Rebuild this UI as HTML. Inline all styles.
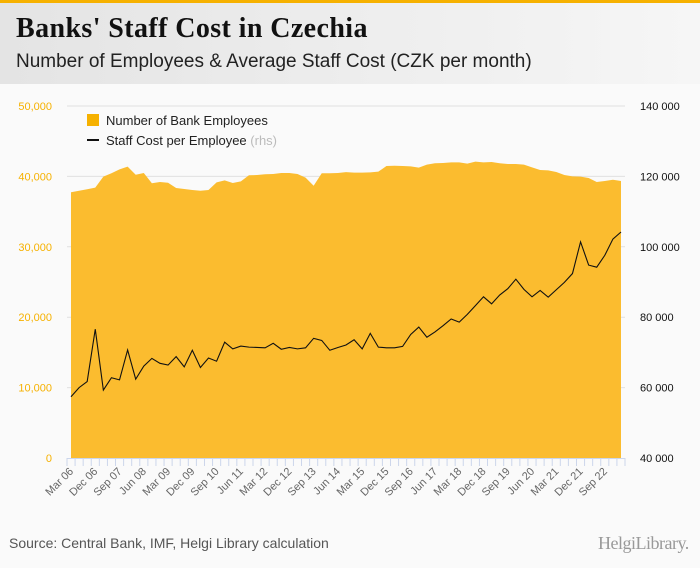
<!DOCTYPE html>
<html><head><meta charset="utf-8"><style>
body{margin:0;width:700px;height:568px;background:#fafafa;font-family:"Liberation Sans",sans-serif;overflow:hidden;position:relative}
#hdr{position:absolute;left:0;top:0;width:700px;height:84px;background:linear-gradient(90deg,#e4e4e4,#f6f6f6);border-top:3px solid #f6b100;box-sizing:border-box}
#title{position:absolute;left:16px;top:13px;font:bold 28px "Liberation Serif",serif;color:#111;letter-spacing:0.4px}
#sub{position:absolute;left:16px;top:51px;font:19px "Liberation Sans",sans-serif;color:#222}
#src{position:absolute;left:9px;top:535px;font:14px "Liberation Sans",sans-serif;color:#555}
#logo{position:absolute;left:598px;top:533px;font:18px "Liberation Serif",serif;color:#999;letter-spacing:-0.5px}
svg{position:absolute;left:0;top:0}
</style></head><body>
<div id="hdr"></div>
<div id="title">Banks' Staff Cost in Czechia</div>
<div id="sub">Number of Employees &amp; Average Staff Cost (CZK per month)</div>
<svg id="chart" width="700" height="568"></svg>
<div id="src">Source: Central Bank, IMF, Helgi Library calculation</div>
<div id="logo">HelgiLibrary.</div>
<script>
const employees=[37740,37970,38170,38400,39960,40440,41000,41380,40240,40480,39020,39200,39100,38350,38210,38070,37970,38070,39160,39440,39060,39300,40160,40200,40300,40340,40480,40480,40340,39820,38680,40440,40440,40480,40600,40530,40530,40580,40670,41480,41520,41480,41430,41240,41670,41860,41900,42000,42000,41810,42090,42000,42050,41860,41760,41760,41670,41290,40910,40860,40620,40200,40010,39960,39770,39200,39350,39530,39350];
const staffCost=[57400,60000,61700,76600,59300,62800,62200,70700,62400,66100,68300,66900,66400,68800,65900,70600,65700,68400,67500,72900,71000,71800,71500,71400,71300,72600,70900,71400,71000,71300,74000,73400,70600,71400,72100,73600,71000,75400,71500,71300,71300,71700,75100,77200,74300,75800,77600,79500,78600,80800,83300,85800,83800,86300,88100,90800,87900,85800,87600,85700,87800,89900,92400,101400,94800,94200,97600,102200,104200];
const leftTicks=[0,10000,20000,30000,40000,50000];
const rightTicks=[40000,60000,80000,100000,120000,140000];
const qNames=["Mar","Jun","Sep","Dec"];
const startYear=2006;
const svg=document.getElementById('chart');const NS="http://www.w3.org/2000/svg";
const X0=71,X1=621,Y0=458,Y1=106;
const n=employees.length;
const xs=i=>X0+(X1-X0)*i/(n-1);
const yL=v=>Y0-(Y0-Y1)*v/50000;
const yR=v=>Y0-(Y0-Y1)*(v-40000)/100000;
function mk(t,a,txt){const e=document.createElementNS(NS,t);for(const k in a)e.setAttribute(k,a[k]);if(txt!==undefined)e.textContent=txt;svg.appendChild(e);return e;}
leftTicks.forEach(v=>{
 if(v>0){const g=mk('line',{x1:67,x2:625,y1:yL(v),y2:yL(v),stroke:'#e0e0e0','stroke-width':1});
 
 }
 const t=mk('text',{x:52,y:yL(v)+4,'text-anchor':'end','font-size':11,fill:'#f6b100'},v.toLocaleString('en-US'));
 
 
});
rightTicks.forEach(v=>{
 const t=mk('text',{x:640,y:yR(v)+4,'font-size':11,fill:'#111'},String(v).replace(/\B(?=(\d{3})+(?!\d))/g,' '));
 
 
});
let d=`M${xs(0)},${Y0}`;employees.forEach((v,i)=>d+=` L${xs(i)},${yL(v)}`);d+=` L${xs(n-1)},${Y0} Z`;
const area=mk('path',{d:d,fill:'#fbbc2f'});


let d2='';staffCost.forEach((v,i)=>d2+=(i?' L':'M')+xs(i)+','+yR(v));
const ln=mk('path',{d:d2,fill:'none',stroke:'#111','stroke-width':1.1});


const ax=mk('line',{x1:67,x2:625,y1:Y0+0.5,y2:Y0+0.5,stroke:'#ccd6eb'});


for(let i=0;i<=n;i++){const x=X0-4+(X1-X0+8)*i/n;
 const tk=mk('line',{x1:x,x2:x,y1:Y0,y2:Y0+8,stroke:'#ccd6eb'});
 
 }
for(let i=0;i<n;i+=3){const lab=qNames[i%4]+' '+String((startYear+Math.floor(i/4))%100).padStart(2,'0');
 const x=xs(i)+3,y=Y0+14;
 const t=mk('text',{x:x,y:y,'text-anchor':'end','font-size':11,fill:'#666',transform:`rotate(-45 ${x} ${y})`},lab);
 
 }
const lg1=mk('rect',{x:87,y:114,width:12,height:12,fill:'#f6b100'});


const lt1=mk('text',{x:106,y:125,'font-size':13,fill:'#222'},'Number of Bank Employees');


const lg2=mk('line',{x1:87,x2:99,y1:140,y2:140,stroke:'#111','stroke-width':2});


const lt2=mk('text',{x:106,y:145,'font-size':13,fill:'#222'},'Staff Cost per Employee ');


const ts=document.createElementNS(NS,'tspan');ts.setAttribute('fill','#bbb');ts.textContent='(rhs)';lt2.appendChild(ts);
</script>
</body></html>
